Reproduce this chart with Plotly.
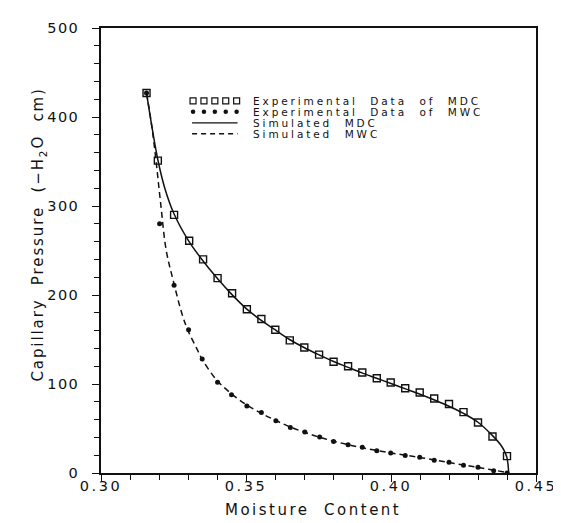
import plotly.graph_objects as go

# ---------------- data ----------------
mdc_x = [0.3157, 0.3196, 0.3252, 0.3304, 0.3352, 0.3402, 0.3452, 0.3503, 0.3553,
         0.3601, 0.3651, 0.3701, 0.3752, 0.3802, 0.3852, 0.3901, 0.3951, 0.3999,
         0.4049, 0.4099, 0.4149, 0.4200, 0.4250, 0.4300, 0.4350, 0.4400]
mdc_y = [427, 351, 290, 261, 240, 219, 202, 184, 173, 161, 149, 141, 133, 125,
         120, 113, 106.5, 101.7, 95.3, 90.5, 83.7, 77.6, 68.4, 56.8, 41, 19]

mwc_x = [0.3157, 0.3202, 0.3252, 0.3302, 0.3349, 0.3402, 0.3450, 0.3503, 0.3553,
         0.3603, 0.3653, 0.3703, 0.3754, 0.3802, 0.3852, 0.3901, 0.3951, 0.3999,
         0.4049, 0.4099, 0.4149, 0.4200, 0.4250, 0.4300, 0.4354, 0.4400]
mwc_y = [427, 280, 211, 161, 128, 102, 88, 75.4, 68, 58.6, 51, 46, 40.4, 35.5,
         31.7, 28.8, 25, 22.4, 19.8, 17.6, 14.2, 12, 8.6, 6.4, 2.6, 0]

sim_mdc_x = [0.3157, 0.3175, 0.3196, 0.3220, 0.3252, 0.3300, 0.3350, 0.3400, 0.3450,
             0.3500, 0.3550, 0.3600, 0.3650, 0.3700, 0.3750, 0.3800, 0.3850, 0.3900,
             0.3950, 0.4000, 0.4050, 0.4100, 0.4150, 0.4200, 0.4250, 0.4300, 0.4350,
             0.4378, 0.4392, 0.4400, 0.4406]
sim_mdc_y = [427, 390, 352, 320, 291, 262, 239, 219, 201, 185, 172, 161, 150, 141,
             133, 125.5, 119, 112.5, 106.5, 100.5, 94.5, 88.5, 82, 75, 67, 57, 42,
             31.7, 24, 17, 0]

sim_mwc_x = [0.3157, 0.3175, 0.3190, 0.3205, 0.3225, 0.3250, 0.3280, 0.3300, 0.3330,
             0.3350, 0.3400, 0.3450, 0.3500, 0.3550, 0.3600, 0.3650, 0.3700, 0.3750,
             0.3800, 0.3850, 0.3900, 0.3950, 0.4000, 0.4050, 0.4100, 0.4150, 0.4200,
             0.4250, 0.4300, 0.4350, 0.4400, 0.4406]
sim_mwc_y = [427, 390, 350, 305, 250, 215, 178, 160, 140, 127, 104, 89, 77, 67.5,
             59.5, 52, 46, 40.5, 36, 32, 28.5, 25.3, 22.5, 20, 17.5, 14.5, 11.8, 9,
             6.3, 3.5, 0.5, 0]

x_tick_vals = [0.30, 0.35, 0.40, 0.45]
x_tick_text = ["0.30", "0.35", "0.40", "0.45"]
y_tick_vals = [0, 100, 200, 300, 400, 500]
y_tick_text = ["0", "100", "200", "300", "400", "500"]

legend_labels = ["Experimental\u00a0\u00a0Data\u00a0\u00a0of\u00a0\u00a0MDC",
                 "Experimental\u00a0\u00a0Data\u00a0\u00a0of\u00a0\u00a0MWC",
                 "Simulated\u00a0\u00a0MDC",
                 "Simulated\u00a0\u00a0MWC"]

x_title = "Moisture\u00a0\u00a0Content"
y_title = "Capillary\u00a0\u00a0Pressure\u00a0\u00a0(\u2212H<sub>2</sub>O\u00a0\u00a0cm)"

# ---------------- styling ----------------
FONT = "DejaVu Sans"
BLACK = "#111111"
W, H = 561, 523
L, R, T, B = 93, 19, 19, 58
PW, PH = W - L - R, H - T - B


def spaced(txt, px):
    return '<span style="letter-spacing:%spx">%s</span>' % (px, txt)


fig = go.Figure()

fig.add_trace(go.Scatter(x=sim_mdc_x, y=sim_mdc_y, mode="lines",
                         line=dict(color=BLACK, width=1.5), line_shape="spline",
                         showlegend=False, hoverinfo="skip"))
fig.add_trace(go.Scatter(x=sim_mwc_x, y=sim_mwc_y, mode="lines",
                         line=dict(color=BLACK, width=1.5, dash="6px,4px"),
                         line_shape="spline", showlegend=False, hoverinfo="skip"))
fig.add_trace(go.Scatter(x=mdc_x, y=mdc_y, mode="markers",
                         marker=dict(symbol="square-open", size=7, color=BLACK,
                                     line=dict(width=1.4, color=BLACK)),
                         showlegend=False))
fig.add_trace(go.Scatter(x=mwc_x, y=mwc_y, mode="markers",
                         marker=dict(symbol="circle", size=5, color=BLACK),
                         showlegend=False))

# ---------------- hand-built legend (overlay axes in pixel units) ----------------
rows = [92, 103, 114, 125]
sx0, sx1, tx = 188, 233, 248
n = 5
samp = [sx0 + i * (sx1 - sx0) / (n - 1) for i in range(n)]
fig.add_trace(go.Scatter(x=samp, y=[rows[0]] * n, xaxis="x2", yaxis="y2", mode="markers",
                         marker=dict(symbol="square-open", size=6, color=BLACK,
                                     line=dict(width=1.2, color=BLACK)),
                         showlegend=False, hoverinfo="skip"))
fig.add_trace(go.Scatter(x=samp, y=[rows[1]] * n, xaxis="x2", yaxis="y2", mode="markers",
                         marker=dict(symbol="circle", size=4.5, color=BLACK),
                         showlegend=False, hoverinfo="skip"))
fig.add_trace(go.Scatter(x=[sx0 - 1, sx1 + 1], y=[rows[2]] * 2, xaxis="x2", yaxis="y2",
                         mode="lines", line=dict(color=BLACK, width=1.3),
                         showlegend=False, hoverinfo="skip"))
fig.add_trace(go.Scatter(x=[sx0 - 1, sx1 + 1], y=[rows[3]] * 2, xaxis="x2", yaxis="y2",
                         mode="lines", line=dict(color=BLACK, width=1.3, dash="5px,4px"),
                         showlegend=False, hoverinfo="skip"))
for lab, ry in zip(legend_labels, rows):
    fig.add_annotation(x=tx, y=ry, xref="x2", yref="y2", text=spaced(lab, 2.9),
                       showarrow=False, xanchor="left", yanchor="middle",
                       font=dict(family=FONT, size=10.5, color=BLACK))

# axis titles as annotations (pixel positions converted to paper units)
fig.add_annotation(x=(312 - L) / PW, y=(H - B - 502) / PH, xref="paper", yref="paper",
                   text=spaced(x_title, 2.5), showarrow=False,
                   xanchor="center", yanchor="middle",
                   font=dict(family=FONT, size=15, color=BLACK))
fig.add_annotation(x=(29 - L) / PW, y=(H - B - 226) / PH, xref="paper", yref="paper",
                   text=spaced(y_title, 1.9), showarrow=False, textangle=-90,
                   xanchor="center", yanchor="middle",
                   font=dict(family=FONT, size=15, color=BLACK))

axis_common = dict(showline=True, linecolor=BLACK, linewidth=1.5, mirror=True,
                   showgrid=False, zeroline=False, ticks="outside", tickcolor=BLACK,
                   tickwidth=1.2, ticklen=7, ticklabeloverflow="allow",
                   tickfont=dict(family=FONT, size=14.5, color=BLACK))

fig.update_layout(
    width=W, height=H,
    margin=dict(l=L, r=R, t=T, b=B, pad=0),
    paper_bgcolor="white", plot_bgcolor="white",
    showlegend=False,
    xaxis=dict(range=[0.30, 0.45], tickmode="array", tickvals=x_tick_vals,
               ticktext=[spaced(t, 2.5) for t in x_tick_text],
               minor=dict(dtick=0.01, tick0=0.30, ticks="outside", ticklen=5,
                          tickcolor=BLACK, tickwidth=1.2),
               ticklabelstandoff=-8,
               **axis_common),
    yaxis=dict(range=[0, 500], tickmode="array", tickvals=y_tick_vals,
               ticktext=[spaced(t, 1.5) for t in y_tick_text], ticklabelstandoff=10,
               minor=dict(dtick=20, tick0=0, ticks="outside", ticklen=5,
                          tickcolor=BLACK, tickwidth=1.2),
               **axis_common),
    xaxis2=dict(range=[L, W - R], overlaying="x", visible=False, fixedrange=True),
    yaxis2=dict(range=[H - B, T], overlaying="y", visible=False, fixedrange=True),
)

fig.write_html("out.html")
